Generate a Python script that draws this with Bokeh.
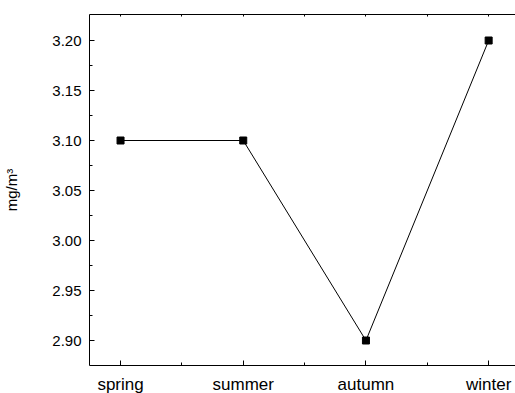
from bokeh.plotting import figure
from bokeh.models import FixedTicker, LinearAxis, Range1d, PrintfTickFormatter
from bokeh.embed import file_html
from bokeh.resources import INLINE

seasons = ["spring", "summer", "autumn", "winter"]
values = [3.10, 3.10, 2.90, 3.20]
y_ticks = [2.90, 2.95, 3.00, 3.05, 3.10, 3.15, 3.20]
y_minor = [2.925, 2.975, 3.025, 3.075, 3.125, 3.175]
x_pos = list(range(len(seasons)))
x_minor = [0.5, 1.5, 2.5]

FONT = "Liberation Sans"

p = figure(frame_width=427, frame_height=351, output_backend="svg", toolbar_location=None,
           x_range=Range1d(-0.253, 3.227), y_range=Range1d(2.875, 3.226),
           min_border_left=88, min_border_right=0, min_border_top=14, min_border_bottom=28)
p.outline_line_color = None
p.grid.visible = False
p.background_fill_color = "white"
p.border_fill_color = "white"

p.line(x_pos, values, line_color="black", line_width=1)
p.scatter(x_pos, values, marker="square", size=7, fill_color="black", line_color="black")

xa = p.xaxis[0]
xa.ticker = FixedTicker(ticks=x_pos, minor_ticks=x_minor)
xa.major_label_overrides = {i: s for i, s in enumerate(seasons)}
xa.major_label_text_font = FONT
xa.major_label_text_font_size = "17px"
xa.major_label_text_color = "black"
xa.major_label_standoff = 9
xa.major_tick_in = 5
xa.major_tick_out = 0
xa.minor_tick_in = 3
xa.minor_tick_out = 0
xa.axis_line_color = "black"
xa.major_tick_line_color = "black"
xa.minor_tick_line_color = "black"

ya = p.yaxis[0]
ya.ticker = FixedTicker(ticks=y_ticks, minor_ticks=y_minor)
ya.formatter = PrintfTickFormatter(format="%.2f")
ya.major_label_text_font = FONT
ya.major_label_text_font_size = "15px"
ya.major_label_text_color = "black"
ya.major_label_standoff = 8
ya.major_tick_in = 5
ya.major_tick_out = 0
ya.minor_tick_in = 3
ya.minor_tick_out = 0
ya.axis_label = "mg/m³"
ya.axis_label_text_font = FONT
ya.axis_label_text_font_size = "15px"
ya.axis_label_text_font_style = "normal"
ya.axis_label_text_color = "black"
ya.axis_label_standoff = 29
ya.axis_line_color = "black"
ya.major_tick_line_color = "black"
ya.minor_tick_line_color = "black"

top = LinearAxis(ticker=FixedTicker(ticks=x_pos, minor_ticks=x_minor))
top.major_label_text_font_size = "0px"
top.major_label_standoff = 0
top.major_label_overrides = {i: "" for i in x_pos}
top.major_tick_in = 2
top.major_tick_out = 0
top.minor_tick_in = 2
top.minor_tick_out = 0
top.axis_line_color = "black"
top.major_tick_line_color = "black"
top.minor_tick_line_color = "black"
p.add_layout(top, "above")

open("out.html", "w").write(file_html(p, INLINE))
